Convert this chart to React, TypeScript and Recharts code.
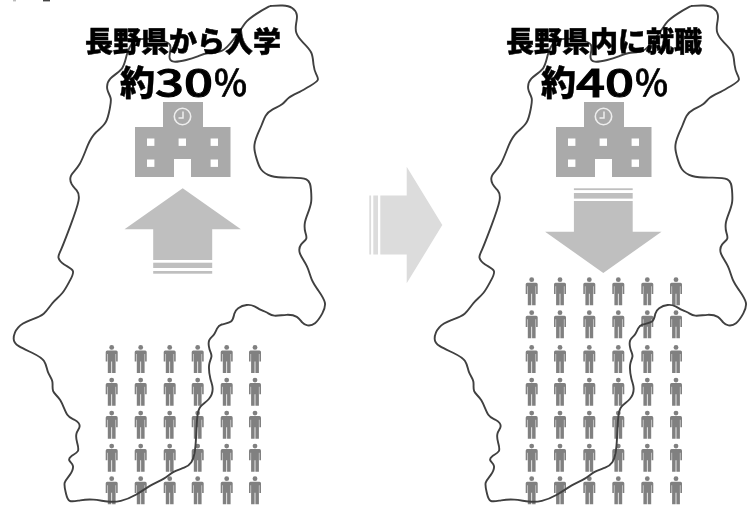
import React from "react";
import { ScatterChart, Scatter, XAxis, YAxis } from "recharts";

// prefecture outline, traced clockwise from the northern tip (left panel position)
const outlinePoints: [number, number][] = [
  [270, 6], [283, 5], [293, 7], [298, 15], [296, 23], [295, 33], [302, 42], [313, 52], [313, 65], [316, 75], [320, 80],
  [310, 86], [300, 92], [288, 97], [283, 105], [272, 109], [265, 115], [262, 125], [257, 135], [253, 147], [257, 160],
  [260, 170], [270, 177], [287, 178], [310, 177], [311, 190], [312, 202], [308, 213], [304, 223], [305, 233], [308, 239],
  [300, 244], [298, 253], [308, 266], [311, 280], [318, 290], [327, 303], [323, 313], [315, 325], [307, 326], [302, 323],
  [298, 316], [287, 314], [273, 317], [267, 312], [260, 310], [255, 306], [247, 304], [237, 308], [234, 313], [233, 323],
  [220, 324], [217, 328], [214, 336], [208, 339], [209, 350], [213, 356], [208, 363], [210, 380], [214, 388], [210, 400],
  [199, 406], [197, 416], [196, 440], [195, 453], [192, 463], [185, 468], [173, 471], [165, 479], [150, 485], [137, 495],
  [120, 502], [108, 502], [93, 499], [80, 500], [68, 503], [66, 493], [63, 482], [70, 476], [75, 465], [68, 461], [70, 456],
  [80, 452], [77, 443], [75, 433], [82, 426], [75, 419], [67, 418], [61, 398], [51, 392], [54, 381], [47, 373], [46, 360],
  [33, 353], [17, 346], [12, 340], [17, 326], [30, 320], [45, 315], [52, 302], [63, 294], [70, 280], [76, 270], [63, 265],
  [57, 257], [60, 253], [70, 227], [81, 197], [77, 190], [71, 185], [69, 175], [80, 167], [88, 143], [95, 132], [107, 124],
  [110, 107], [112, 98], [106, 90], [108, 78], [124, 70], [126, 55], [132, 41], [143, 38], [160, 40], [173, 43], [168, 58],
  [172, 63], [187, 60], [197, 57], [207, 52], [223, 53], [233, 40], [243, 27], [245, 22], [257, 13], [270, 6],
];
const rightPanelShift = 421;

const peopleColsLeft = [111.7, 140.7, 169.7, 197.7, 226.7, 255];
const peopleRowsLeft = [359, 391.7, 424.7, 457.7, 490.3];
const peopleColsRight = [531.7, 560, 589.3, 618.3, 647.3, 676];
const peopleRowsRight = [291.3, 324.3, 359, 391.7, 424.7, 457.7, 490.3];

const schoolX = [183, 604];
const schoolY = [139.5, 139.5];
const titles = ["長野県から入学", "長野県内に就職"];
const titleX = [183, 604];
const percentValues = ["30", "40"];
const cropScrapsX = [14.5, 46.5];

const INK = "#404040";
const PERSON = "#808080";
const SCHOOL = "#aaaaaa";
const ARROW = "#bfbfbf";
const ARROW_LIGHT = "#dcdcdc";
const FONT = '"Noto Sans CJK JP", sans-serif';

const grid = (cols: number[], rows: number[]) => rows.flatMap((y) => cols.map((x) => ({ x, y })));

const Person = ({ cx, cy }: any) => (
  <g transform={`translate(${cx},${cy})`} fill={PERSON}>
    <circle cx={0} cy={-11.6} r={2.4} />
    <path d="M-4.5 -8.6 H4.5 Q6 -8.6 6 -7 V2.6 H4.4 V-5 H3.9 V14 H0.4 V2.5 H-0.4 V14 H-3.9 V-5 H-4.4 V2.6 H-6 V-7 Q-6 -8.6 -4.5 -8.6 Z" />
  </g>
);

const School = ({ cx, cy }: any) => (
  <g transform={`translate(${cx},${cy})`}>
    <path
      fill={SCHOOL}
      d="M-20 -37.5 H20 V-12.5 H47.5 V37.5 H8 V19.5 H-9 V37.5 H-48 V-12.5 H-20 Z"
    />
    {[-32.3, -0.7, 31.3].map((wx) => (
      <rect key={wx} x={wx - 3.7} y={-1} width={7.4} height={7.4} fill="#fff" />
    ))}
    {[-32.3, 31.3].map((wx) => (
      <rect key={wx} x={wx - 3.7} y={20} width={7.4} height={7.4} fill="#fff" />
    ))}
    <circle cx={-0.5} cy={-23} r={8.2} fill="none" stroke="#eeeeee" strokeWidth={1.6} />
    <path d="M0 -28 V-21.5 H-4.5" fill="none" stroke="#eeeeee" strokeWidth={1.5} />
  </g>
);

const UpArrow = ({ cx, cy }: any) => (
  <g transform={`translate(${cx},${cy})`} fill={ARROW}>
    <path d="M0 -42.7 L58.2 -1.7 H29.5 V29 H-29.5 V-1.7 H-58.2 Z" />
    <rect x={-29.5} y={31.7} width={59} height={5.3} />
    <rect x={-29.5} y={40} width={59} height={2.7} />
  </g>
);

const DownArrow = ({ cx, cy }: any) => (
  <g transform={`translate(${cx},${cy})`} fill={ARROW}>
    <path d="M0 42.7 L58.2 1.4 H29.4 V-29.3 H-29.4 V1.4 H-58.2 Z" />
    <rect x={-29.4} y={-37.3} width={58.8} height={5.6} />
    <rect x={-29.4} y={-42} width={58.8} height={1.8} />
  </g>
);

const SideArrow = ({ cx, cy }: any) => (
  <g transform={`translate(${cx},${cy})`} fill={ARROW_LIGHT}>
    <path d="M32.3 0 L-3.3 -58.3 V-29.5 H-29.7 V29.5 H-3.3 V58.3 Z" />
    <rect x={-36.7} y={-29.5} width={4.7} height={59} />
    <rect x={-40.7} y={-29.5} width={1.8} height={59} />
  </g>
);

const Scrap = ({ cx, cy, index }: any) => (
  <rect x={cx - (index ? 3.5 : 1.5)} y={cy} width={index ? 7 : 3} height={1.4} fill={index ? "#444" : "#bbb"} />
);

const Title = ({ cx, cy, payload }: any) => (
  <text
    x={cx}
    y={cy}
    textAnchor="middle"
    dominantBaseline="central"
    fontFamily={FONT}
    fontWeight={900}
    fontSize={28}
    stroke="#000"
    strokeWidth={0.5}
    fill="#000"
  >
    {payload.text}
  </text>
);

// the digits in the original are set wide, so they get stretched to their own length
const Percent = ({ cx, cy, payload }: any) => (
  <text
    x={cx - 63}
    y={cy}
    dominantBaseline="central"
    fontFamily={FONT}
    fontWeight={900}
    fontSize={35}
    stroke="#000"
    strokeWidth={0.4}
    fill="#000"
  >
    <tspan>約</tspan>
    <tspan fontSize={38} fontWeight={500} strokeWidth={1} textLength={58} lengthAdjust="spacingAndGlyphs">{payload.text}</tspan>
    <tspan fontWeight={500} strokeWidth={0.7}>％</tspan>
  </text>
);

export default function App() {
  const leftOutline = outlinePoints.map(([x, y]) => ({ x, y }));
  const rightOutline = outlinePoints.map(([x, y]) => ({ x: x + rightPanelShift, y }));
  const schoolRows = schoolX.map((x, i) => ({ x, y: schoolY[i] }));
  const titleRows = titles.map((text, i) => ({ x: titleX[i], y: 40, text }));
  const percentRows = percentValues.map((text, i) => ({ x: titleX[i], y: 80, text }));
  const lineStyle = { stroke: INK, strokeWidth: 1.9, fill: "none" };

  return (
    <div style={{ position: "absolute", left: 0, top: 0, width: 751, height: 506, background: "#fff", filter: "blur(0.35px)" }}>
      <ScatterChart width={751} height={506} margin={{ top: 0, right: 0, bottom: 0, left: 0 }}>
        <XAxis type="number" dataKey="x" domain={[0, 751]} hide />
        <YAxis type="number" dataKey="y" domain={[0, 506]} reversed hide />
        <Scatter data={cropScrapsX.map((x) => ({ x, y: 0 }))} shape={Scrap} isAnimationActive={false} />
        <Scatter data={schoolRows} shape={School} isAnimationActive={false} />
        <Scatter data={[{ x: 182.7, y: 231 }]} shape={UpArrow} isAnimationActive={false} />
        <Scatter data={[{ x: 603.3, y: 230.3 }]} shape={DownArrow} isAnimationActive={false} />
        <Scatter data={[{ x: 410, y: 225 }]} shape={SideArrow} isAnimationActive={false} />
        <Scatter data={grid(peopleColsLeft, peopleRowsLeft)} shape={Person} isAnimationActive={false} />
        <Scatter data={grid(peopleColsRight, peopleRowsRight)} shape={Person} isAnimationActive={false} />
        <Scatter data={leftOutline} line={lineStyle} lineJointType="basis" shape={() => null} isAnimationActive={false} />
        <Scatter data={rightOutline} line={lineStyle} lineJointType="basis" shape={() => null} isAnimationActive={false} />
        <Scatter data={titleRows} shape={Title} isAnimationActive={false} />
        <Scatter data={percentRows} shape={Percent} isAnimationActive={false} />
      </ScatterChart>
    </div>
  );
}
